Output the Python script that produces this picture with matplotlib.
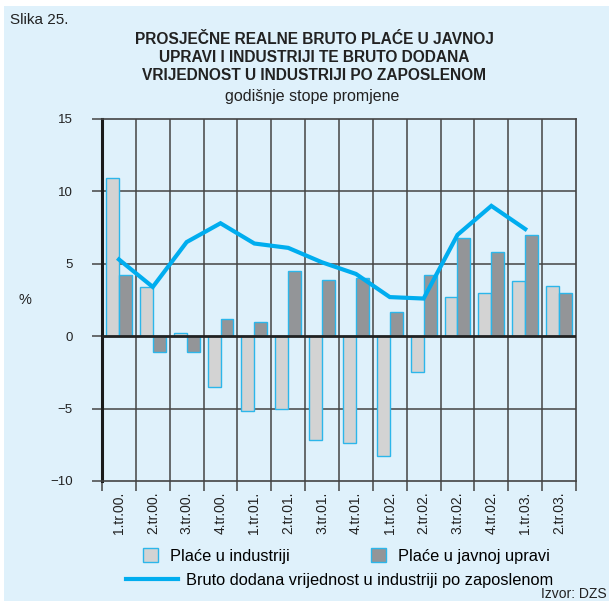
import numpy as np
import matplotlib
matplotlib.use('Agg')
import matplotlib.pyplot as plt
from matplotlib.patches import Rectangle, Patch
from matplotlib.lines import Line2D

plt.rcParams['font.family'] = ['Liberation Sans', 'DejaVu Sans']

# quarters
quarters = ['1.tr.00.', '2.tr.00.', '3.tr.00.', '4.tr.00.',
            '1.tr.01.', '2.tr.01.', '3.tr.01.', '4.tr.01.',
            '1.tr.02.', '2.tr.02.', '3.tr.02.', '4.tr.02.',
            '1.tr.03.', '2.tr.03.']

# wages in industry
place_industrija = [10.9, 3.4, 0.25, -3.5, -5.2, -5.0, -7.2, -7.4, -8.3, -2.5, 2.7, 3.0, 3.8, 3.5]
# wages in public administration
place_uprava = [4.2, -1.1, -1.1, 1.2, 1.0, 4.5, 3.9, 4.0, 1.7, 4.2, 6.8, 5.8, 7.0, 3.0]
# gross value added per employee (no value for last quarter)
bdv = [5.3, 3.4, 6.5, 7.8, 6.4, 6.1, 5.1, 4.3, 2.7, 2.6, 7.0, 9.0, 7.4]

BG = '#dff1fb'
EDGE = '#2cb6ea'
LINE = '#00adef'
LIGHT = '#d3d3d3'
DARK = '#939598'
GRID = '#444444'
TXT = '#222222'

fig = plt.figure(figsize=(6.09, 6.01), dpi=100)
fig.patch.set_facecolor('white')
fig.patches.append(Rectangle((4 / 609, 0), 1, 1 - 6 / 601, transform=fig.transFigure,
                             facecolor=BG, edgecolor='none', zorder=-10))

ax = fig.add_axes([0.1675, 0.1997, 0.7783, 0.6023])
ax.set_facecolor(BG)

x = np.arange(len(quarters))
w = 0.38
ax.bar(x, place_industrija, width=-w, align='edge', color=LIGHT, edgecolor=EDGE, linewidth=1.0, zorder=3)
ax.bar(x, place_uprava, width=w, align='edge', color=DARK, edgecolor=EDGE, linewidth=1.0, zorder=3)
ax.plot(np.arange(len(bdv)), bdv, color=LINE, linewidth=3.0, zorder=4, solid_joinstyle='miter')

ax.set_xlim(-0.5, len(quarters) - 0.5)
ax.set_ylim(-10, 15)
ax.set_yticks([-10, -5, 0, 5, 10, 15])
ax.set_yticklabels(['\u221210', '\u22125', '0', '5', '10', '15'], fontsize=9.5, color=TXT)

# vertical grid at category boundaries, horizontal every 5
bounds = np.arange(len(quarters) + 1) - 0.5
for b in bounds[1:-1]:
    ax.axvline(b, color=GRID, linewidth=1.1, zorder=1)
for yv in [-5, 5, 10]:
    ax.axhline(yv, color=GRID, linewidth=1.1, zorder=1)
ax.axhline(0, color=TXT, linewidth=2.0, zorder=5)

ax.set_xticks(bounds, minor=False)
ax.set_xticklabels([])
ax.set_xticks(x, minor=True)
ax.set_xticklabels(quarters, minor=True, rotation=90, fontsize=10, color=TXT)
ax.tick_params(axis='x', which='major', length=7, width=1.1, color=GRID, direction='out')
ax.tick_params(axis='x', which='minor', length=0, pad=7.5)
ax.tick_params(axis='y', length=7, width=1.1, color=GRID, direction='out', pad=14)

for s in ['top', 'right', 'bottom']:
    ax.spines[s].set_color(GRID)
    ax.spines[s].set_linewidth(1.2)
ax.spines['left'].set_color('#1a1a1a')
ax.spines['left'].set_linewidth(2.2)

fig.text(25 / 609, 1 - 300 / 601, '%', fontsize=10.5, color=TXT, ha='center', va='center')

fig.text(10 / 609, 1 - 20 / 601, 'Slika 25.', fontsize=11, color=TXT, ha='left', va='center')
title_lines = ['PROSJEČNE REALNE BRUTO PLAĆE U JAVNOJ',
               'UPRAVI I INDUSTRIJI TE BRUTO DODANA',
               'VRIJEDNOST U INDUSTRIJI PO ZAPOSLENOM']
for i, t in enumerate(title_lines):
    fig.text(314 / 609, 1 - (40 + 18 * i) / 601, t, fontsize=11.2, fontweight='bold',
             color=TXT, ha='center', va='center')
fig.text(312 / 609, 1 - 96 / 601, 'godišnje stope promjene', fontsize=11.5, color=TXT,
         ha='center', va='center')

# legend
h1 = Patch(facecolor=LIGHT, edgecolor=EDGE, linewidth=1.0)
h2 = Patch(facecolor=DARK, edgecolor=EDGE, linewidth=1.0)
h3 = Line2D([], [], color=LINE, linewidth=3.0)
fig.legend([h1], ['Plaće u industriji'], loc='center left', bbox_to_anchor=(128 / 609, 1 - 556 / 601),
           frameon=False, fontsize=11.8, handlelength=0.95, handleheight=0.95, handletextpad=0.7)
fig.legend([h2], ['Plaće u javnoj upravi'], loc='center left', bbox_to_anchor=(356 / 609, 1 - 556 / 601),
           frameon=False, fontsize=11.8, handlelength=0.95, handleheight=0.95, handletextpad=0.7)
fig.legend([h3], ['Bruto dodana vrijednost u industriji po zaposlenom'], loc='center left',
           bbox_to_anchor=(111 / 609, 1 - 580 / 601), frameon=False, fontsize=11.8,
           handlelength=3.2, handletextpad=0.45)

fig.text(607 / 609, 1 - 594 / 601, 'Izvor: DZS', fontsize=10, color=TXT, ha='right', va='center')

fig.savefig('out.png', dpi=100, facecolor='white')
